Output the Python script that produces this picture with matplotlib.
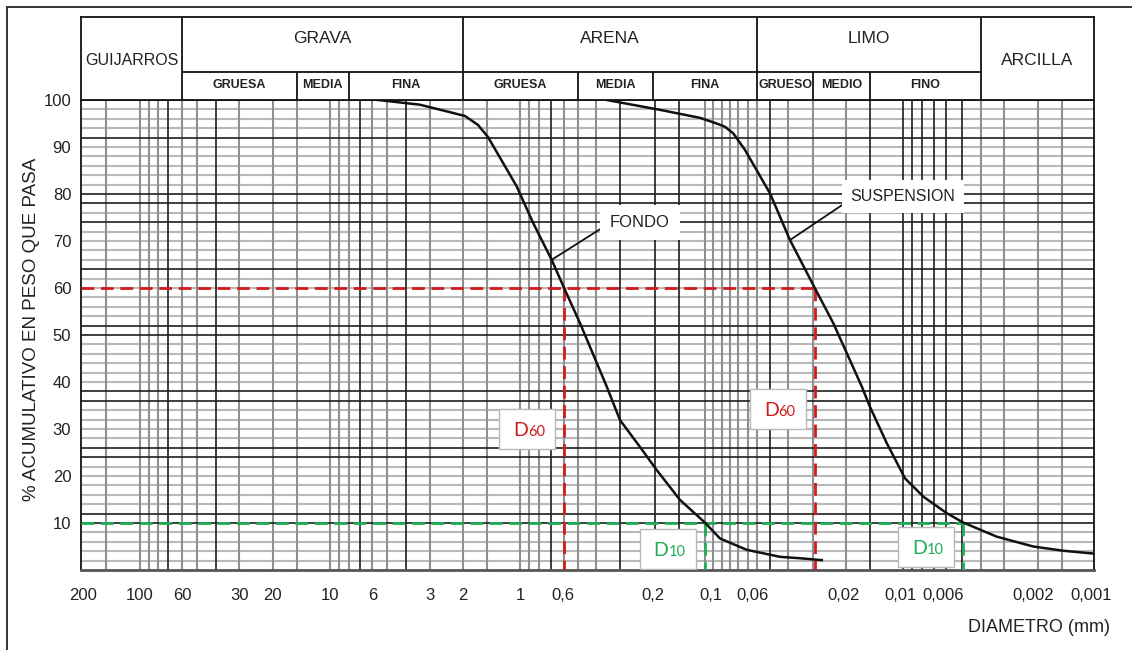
import numpy as np
import matplotlib
matplotlib.use("Agg")
import matplotlib.pyplot as plt
import matplotlib.transforms as mtransforms
from matplotlib.patches import Rectangle
from matplotlib.lines import Line2D
from matplotlib.ticker import FixedLocator, FixedFormatter, NullLocator

# ---- grain size curves: diameter (mm) vs. cumulative % passing ----
fondo_d = [5.60, 3.37, 2.34, 1.954, 1.669, 1.477, 1.044, 0.855, 0.684, 0.587,
           0.485, 0.351, 0.299, 0.235, 0.192, 0.1446, 0.107, 0.0891, 0.0645,
           0.0431, 0.0338, 0.026]
fondo_p = [100, 99.0, 97.4, 96.6, 94.7, 92.1, 81.6, 73.8, 66.0, 59.9,
           52.5, 39.0, 31.9, 26.2, 21.3, 14.9, 10.1, 6.7, 4.3,
           2.8, 2.5, 2.1]

susp_d = [0.351, 0.184, 0.1135, 0.0928, 0.0839, 0.0759, 0.0659, 0.0486, 0.0382,
          0.0282, 0.0226, 0.0160, 0.0145, 0.01184, 0.00949, 0.0076, 0.00573,
          0.00469, 0.00313, 0.00201, 0.0014, 0.00097]
susp_p = [100, 97.9, 96.2, 95.0, 94.3, 92.9, 89.4, 80.1, 70.2,
          59.9, 52.5, 39.0, 34.7, 27.0, 19.5, 15.6, 12.1,
          10.1, 7.1, 5.0, 4.1, 3.5]

# characteristic diameters (fondo, suspension)
d60 = [0.587, 0.0282]
d10 = [0.107, 0.00469]
d60_tag_y = [30.0, 34.3]
d10_tag_y = [4.4, 5.0]

# ---- axis ticks ----
xtick_vals = [200, 100, 60, 30, 20, 10, 6, 3, 2, 1, 0.6, 0.2, 0.1, 0.06,
              0.02, 0.01, 0.006, 0.002, 0.001]
xtick_text = ['200', '100', '60', '30', '20', '10', '6', '3', '2', '1', '0,6',
              '0,2', '0,1', '0,06', '0,02', '0,01', '0,006', '0,002', '0,001']
ytick_vals = [10, 20, 30, 40, 50, 60, 70, 80, 90, 100]

# ---- grid of the printed chart ----
vgrid_gray = [150, 100, 90, 80, 60, 50, 30, 20, 15, 10, 9, 8, 6, 5, 3, 2, 1.5,
              1, 0.9, 0.8, 0.59, 0.5, 0.4, 0.107, 0.0973, 0.0873, 0.0789,
              0.0714, 0.0633, 0.057, 0.039, 0.0288, 0.0194, 0.00378, 0.00286,
              0.00189, 0.00142]
vgrid_black = [71.4, 40, 7, 4, 0.69, 0.3, 0.195, 0.147, 0.0489, 0.0145,
               0.00969, 0.00875, 0.00773, 0.00672, 0.00581, 0.00476]
hgrid_black = [92, 80, 78, 74, 64, 52, 50, 38, 36, 26, 24, 12, 10]
hgrid_gray = [p for p in range(2, 100, 2) if p not in hgrid_black]

# ---- soil classes header ----
main_bounds = [204, 60, 2, 0.057, 0.0038, 0.000963]
main_names = ['GUIJARROS', 'GRAVA', 'ARENA', 'LIMO', 'ARCILLA']
sub_bounds = [[60, 15, 8, 2], [2, 0.5, 0.2, 0.057], [0.057, 0.0288, 0.0145, 0.0038]]
sub_names = [['GRUESA', 'MEDIA', 'FINA'], ['GRUESA', 'MEDIA', 'FINA'],
             ['GRUESO', 'MEDIO', 'FINO']]

W, H = 1132, 650
plt.rcParams['font.family'] = ['Liberation Sans', 'DejaVu Sans']
TXT = '#222222'
RED = '#d01c1c'
GREEN = '#1fae55'

fig = plt.figure(figsize=(W / 100, H / 100), dpi=100)
fig.patch.set_facecolor('white')

left, right = 81 / W, 1094 / W
ax = fig.add_axes([left, 1 - 570 / H, right - left, 470 / H])
hx = fig.add_axes([left, 1 - 100 / H, right - left, 83 / H])

for a in (ax, hx):
    a.set_xscale('log')
    a.set_xlim(main_bounds[0], main_bounds[-1])
    for s in a.spines.values():
        s.set_color('#111111')
        s.set_linewidth(1.3)
ax.set_ylim(0, 100)
ax.spines['bottom'].set_color('#555555')
ax.spines['bottom'].set_linewidth(2.0)

# grid
for p in hgrid_gray:
    ax.axhline(p, color='#b8b8b8', lw=1.5, zorder=1)
for v in vgrid_gray:
    ax.axvline(v, color='#8f8f8f', lw=1.5, zorder=1.2)
for p in hgrid_black:
    ax.axhline(p, color='#1e1e1e', lw=1.2, zorder=1.5)
for v in vgrid_black:
    ax.axvline(v, color='#1e1e1e', lw=1.2, zorder=1.5)

# ticks
ax.xaxis.set_major_locator(FixedLocator(xtick_vals))
ax.xaxis.set_major_formatter(FixedFormatter(xtick_text))
ax.xaxis.set_minor_locator(NullLocator())
ax.yaxis.set_major_locator(FixedLocator(ytick_vals))
ax.tick_params(axis='both', length=0, labelsize=12, labelcolor=TXT)
ax.tick_params(axis='x', pad=13)
ax.tick_params(axis='y', pad=7)

# D60 / D10 construction lines
dash = (0, (4.6, 2.4))
lw_d = 2.0
ax.plot([main_bounds[0], min(d60)], [60, 60], color=RED, lw=lw_d, ls=dash, zorder=3)
ax.plot([main_bounds[0], min(d10)], [10, 10], color=GREEN, lw=lw_d, ls=dash, zorder=3)
for d in d60:
    ax.plot([d, d], [60, 0], color=RED, lw=lw_d, ls=dash, zorder=3)
for d in d10:
    ax.plot([d, d], [10, 0], color=GREEN, lw=lw_d, ls=dash, zorder=3)

# curves
ax.plot(fondo_d, fondo_p, color='#111111', lw=1.8, zorder=4)
ax.plot(susp_d, susp_p, color='#111111', lw=1.8, zorder=4)

# curve labels
ax.annotate('FONDO', xy=(0.684, 66.0), xytext=(0.235, 74.0), fontsize=12,
            color=TXT, ha='center', va='center', zorder=6,
            bbox=dict(boxstyle='square,pad=0.6', fc='white', ec='none'),
            arrowprops=dict(arrowstyle='-', color='#111111', lw=1.3,
                            relpos=(0, 0.45), shrinkA=0, shrinkB=0))
ax.annotate('SUSPENSION', xy=(0.0382, 70.2), xytext=(0.00973, 79.5), fontsize=11.5,
            color=TXT, ha='center', va='center', zorder=6,
            bbox=dict(boxstyle='square,pad=0.55', fc='white', ec='none'),
            arrowprops=dict(arrowstyle='-', color='#111111', lw=1.3,
                            relpos=(0, 0.3), shrinkA=0, shrinkB=0))


def d_tag(x, y, sub, color):
    tr = fig.dpi_scale_trans + mtransforms.ScaledTranslation(x, y, ax.transData)
    ax.add_patch(Rectangle((-0.65, -0.20), 0.56, 0.40, transform=tr,
                           fc='white', ec='#b8b8b8', lw=1.0, zorder=7))
    ax.text(-0.365, -0.07, 'D', transform=tr, ha='right', va='baseline',
            fontsize=14, color=color, family='Lato', zorder=8)
    ax.text(-0.365, -0.07, sub, transform=tr, ha='left', va='baseline',
            fontsize=10.5, color=color, family='Lato', zorder=8)


for d, y in zip(d60, d60_tag_y):
    d_tag(d, y, '60', RED)
for d, y in zip(d10, d10_tag_y):
    d_tag(d, y, '10', GREEN)

# header with soil classes
hx.set_ylim(0, 1)
hx.xaxis.set_major_locator(NullLocator())
hx.xaxis.set_minor_locator(NullLocator())
hx.yaxis.set_major_locator(NullLocator())
split = 0.337
for b in main_bounds[1:-1]:
    hx.axvline(b, color='#111111', lw=1.3)
hx.hlines(split, main_bounds[1], main_bounds[4], color='#111111', lw=1.3)
for bounds, names in zip(sub_bounds, sub_names):
    hx.vlines(bounds[1:-1], 0, split, color='#111111', lw=1.3)
    for a, b, name in zip(bounds[:-1], bounds[1:], names):
        hx.text(np.sqrt(a * b), split / 2 + 0.01, name, ha='center', va='center',
                fontsize=9, fontweight='bold', color=TXT)
for i, name in enumerate(main_names):
    a, b = main_bounds[i], main_bounds[i + 1]
    y = 0.48 if name in ('GUIJARROS', 'ARCILLA') else 0.745
    hx.text(np.sqrt(a * b), y, name, ha='center', va='center',
            fontsize=11.5 if name == 'GUIJARROS' else 12.5, color=TXT)

# axis titles
fig.text(32 / W, 1 - 329 / H, '% ACUMULATIVO EN PESO QUE PASA', rotation=90,
         ha='center', va='center', fontsize=13.5, color=TXT)
fig.text(1039 / W, 1 - 627 / H, 'DIAMETRO (mm)', ha='center', va='center',
         fontsize=13, color=TXT)

# page frame
fig.add_artist(Line2D([7 / W, 7 / W], [0, 1 - 7 / H], color='#333333', lw=1.4))
fig.add_artist(Line2D([7 / W, 1], [1 - 7 / H, 1 - 7 / H], color='#333333', lw=1.4))

fig.savefig('out.png', dpi=100, facecolor='white')
